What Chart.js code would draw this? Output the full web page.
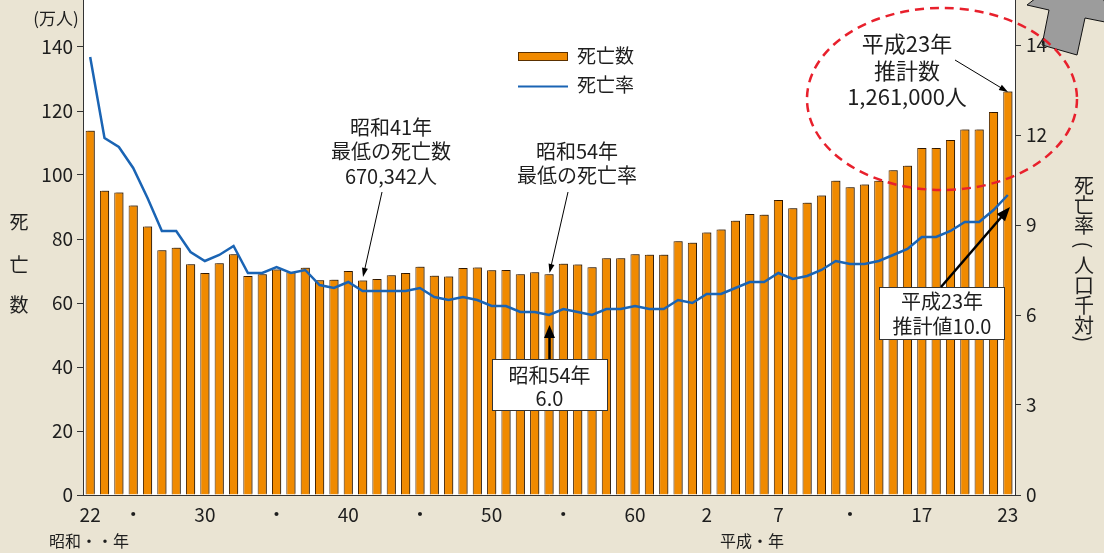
<!DOCTYPE html>
<html><head><meta charset="utf-8">
<script src="https://cdn.jsdelivr.net/npm/chart.js@4"></script>
<style>html,body{margin:0;padding:0;background:#EAE4D3;}canvas{display:block;}</style>
</head><body>
<canvas id="c" width="1104" height="553"></canvas>
<script>
// ---- data ----
const categories = [
 '昭和22','昭和23','昭和24','昭和25','昭和26','昭和27','昭和28','昭和29','昭和30','昭和31',
 '昭和32','昭和33','昭和34','昭和35','昭和36','昭和37','昭和38','昭和39','昭和40','昭和41',
 '昭和42','昭和43','昭和44','昭和45','昭和46','昭和47','昭和48','昭和49','昭和50','昭和51',
 '昭和52','昭和53','昭和54','昭和55','昭和56','昭和57','昭和58','昭和59','昭和60','昭和61',
 '昭和62','昭和63','平成元','平成2','平成3','平成4','平成5','平成6','平成7','平成8',
 '平成9','平成10','平成11','平成12','平成13','平成14','平成15','平成16','平成17','平成18',
 '平成19','平成20','平成21','平成22','平成23'];
// 死亡数 (万人)
const deathCounts = [
 113.8, 95.1, 94.5, 90.5, 83.9, 76.5, 77.3, 72.1, 69.4, 72.4,
 75.2, 68.4, 69.0, 70.5, 69.6, 71.0, 67.1, 67.3, 70.0, 67.0,
 67.5, 68.7, 69.4, 71.3, 68.5, 68.3, 70.9, 71.1, 70.2, 70.3,
 69.0, 69.6, 69.0, 72.3, 72.0, 71.2, 74.0, 74.0, 75.2, 75.1,
 75.1, 79.3, 78.8, 82.0, 83.0, 85.7, 87.8, 87.6, 92.2, 89.6,
 91.3, 93.6, 98.2, 96.2, 97.0, 98.2, 101.5, 102.9, 108.4, 108.4,
 110.9, 114.2, 114.2, 119.7, 126.1];
// 死亡率 (人口千対)
const deathRates = [
 14.6, 11.9, 11.6, 10.9, 9.9, 8.8, 8.8, 8.1, 7.8, 8.0,
 8.3, 7.4, 7.4, 7.6, 7.4, 7.5, 7.0, 6.9, 7.1, 6.8,
 6.8, 6.8, 6.8, 6.9, 6.6, 6.5, 6.6, 6.5, 6.3, 6.3,
 6.1, 6.1, 6.0, 6.2, 6.1, 6.0, 6.2, 6.2, 6.3, 6.2,
 6.2, 6.5, 6.4, 6.7, 6.7, 6.9, 7.1, 7.1, 7.4, 7.2,
 7.3, 7.5, 7.8, 7.7, 7.7, 7.8, 8.0, 8.2, 8.6, 8.6,
 8.8, 9.1, 9.1, 9.5, 10.0];
const tickYears = ['昭和22','昭和25','昭和30','昭和35','昭和40','昭和45','昭和50','昭和55','昭和60','平成2','平成7','平成12','平成17','平成23'];
const tickTexts = ['22','・','30','・','40','・','50','・','60','2','7','・','17','23'];
const leftTicks = [0,20,40,60,80,100,120,140];
const rightTicks = [0,3,6,9,12,15];
const rightTickLabels = ['0','3','6','9','12','14'];

const FONT = "'Noto Sans CJK JP','Noto Sans',sans-serif";
const INK = '#1e1e1e';
Chart.defaults.font.family = FONT;
Chart.defaults.color = INK;

function arrow(ctx, x1, y1, x2, y2, lw, hl, hw) {
  const a = Math.atan2(y2 - y1, x2 - x1);
  ctx.save();
  ctx.strokeStyle = '#000'; ctx.fillStyle = '#000'; ctx.lineWidth = lw;
  ctx.beginPath(); ctx.moveTo(x1, y1);
  ctx.lineTo(x2 - Math.cos(a) * hl * 0.8, y2 - Math.sin(a) * hl * 0.8); ctx.stroke();
  ctx.translate(x2, y2); ctx.rotate(a);
  ctx.beginPath(); ctx.moveTo(0, 0); ctx.lineTo(-hl, -hw / 2); ctx.lineTo(-hl, hw / 2); ctx.closePath(); ctx.fill();
  ctx.restore();
}
function lines(ctx, arr, x, y0, step, size) {
  ctx.save();
  ctx.font = size + 'px ' + FONT; ctx.fillStyle = INK;
  ctx.textAlign = 'center'; ctx.textBaseline = 'middle';
  arr.forEach((t, i) => ctx.fillText(t, x, y0 + i * step));
  ctx.restore();
}
function noPad(s) { s.paddingTop = 0; s.paddingBottom = 0; s.paddingLeft = 0; s.paddingRight = 0; }

const bgPlugin = {
  id: 'bg',
  beforeDraw(chart) {
    const ctx = chart.ctx, a = chart.chartArea;
    ctx.save();
    ctx.fillStyle = '#EAE4D3'; ctx.fillRect(0, 0, chart.width, chart.height);
    ctx.fillStyle = '#ffffff'; ctx.fillRect(a.left, a.top, a.right - a.left, a.bottom - a.top);
    // gray arrow top-right
    ctx.beginPath();
    ctx.moveTo(1085, -40); ctx.lineTo(1027, 5); ctx.lineTo(1049, 10); ctx.lineTo(1042, 45);
    ctx.lineTo(1077, 55); ctx.lineTo(1085, 18); ctx.lineTo(1115, 24); ctx.closePath();
    ctx.fillStyle = '#9c9c9c'; ctx.fill();
    ctx.strokeStyle = '#111'; ctx.lineWidth = 1; ctx.stroke();
    ctx.restore();
  },
  beforeDatasetDraw(chart, args) {
    if (args.index === 0) {
      const ctx = chart.ctx; ctx.save();
      ctx.shadowColor = 'rgba(0,0,0,0.4)'; ctx.shadowOffsetX = 2; ctx.shadowOffsetY = -1; ctx.shadowBlur = 0;
    }
  },
  afterDatasetDraw(chart, args) {
    if (args.index === 0) chart.ctx.restore();
  },
  afterDraw(chart) {
    const ctx = chart.ctx;
    ctx.save();
    // (万人)
    ctx.font = '17px ' + FONT; ctx.fillStyle = INK; ctx.textAlign = 'center'; ctx.textBaseline = 'middle';
    ctx.fillText('(万人)', 56, 19);
    // left title
    ctx.font = '19px ' + FONT;
    ctx.fillText('死', 19, 222); ctx.fillText('亡', 19, 265); ctx.fillText('数', 19, 305);
    // right title (vertical)
    ctx.font = '20px ' + FONT;
    ['死','亡','率','(','人','口','千','対',')'].forEach((c, i) => {
      const y = 185 + i * 20;
      if (c === '(' || c === ')') {
        ctx.save(); ctx.translate(1084, y + (c === ')' ? -6 : 0)); ctx.rotate(Math.PI / 2); ctx.fillText(c, 0, 0); ctx.restore();
      } else ctx.fillText(c, 1084, y);
    });
    // bottom era labels
    ctx.font = '16px ' + FONT;
    ctx.textAlign = 'left';
    ctx.fillText('昭和・・年', 49, 541);
    ctx.fillText('平成・年', 720, 541);
    // legend
    ctx.fillStyle = '#5a3000'; ctx.fillRect(518, 52, 50, 9);
    ctx.fillStyle = '#F08A00'; ctx.fillRect(519, 53, 48, 7);
    ctx.strokeStyle = '#1a64b4'; ctx.lineWidth = 2;
    ctx.beginPath(); ctx.moveTo(518, 86.5); ctx.lineTo(568, 86.5); ctx.stroke();
    ctx.fillStyle = INK; ctx.font = '19px ' + FONT; ctx.textAlign = 'left';
    ctx.fillText('死亡数', 577, 56); ctx.fillText('死亡率', 577, 85);
    ctx.restore();

    // annotations
    lines(ctx, ['昭和41年', '最低の死亡数', '670,342人'], 391, 127, 24.5, 20);
    arrow(ctx, 382, 192, 363, 277, 1, 9, 6);
    lines(ctx, ['昭和54年', '最低の死亡率'], 577, 151, 24.5, 20);
    arrow(ctx, 568, 192, 549.5, 273, 1, 9, 6);

    ctx.save();
    ctx.fillStyle = '#fff'; ctx.strokeStyle = '#333'; ctx.lineWidth = 1;
    ctx.fillRect(492, 359, 116, 52); ctx.strokeRect(492.5, 359.5, 115, 51);
    ctx.fillRect(879, 287, 126, 53); ctx.strokeRect(879.5, 287.5, 125, 52);
    ctx.restore();
    lines(ctx, ['昭和54年', '6.0'], 549.5, 375, 23.5, 20);
    arrow(ctx, 549.5, 359, 549.5, 325, 2.5, 13, 11);
    lines(ctx, ['平成23年', '推計値10.0'], 942, 301, 25, 20);
    arrow(ctx, 941, 287, 1010, 207, 2.5, 14, 11);

    // red dashed ellipse
    ctx.save();
    ctx.strokeStyle = '#e8202c'; ctx.lineWidth = 2.5; ctx.setLineDash([9, 6]);
    ctx.beginPath(); ctx.ellipse(942, 99, 135, 91, 0, 0, Math.PI * 2); ctx.stroke();
    ctx.restore();
    lines(ctx, ['平成23年', '推計数', '1,261,000人'], 907, 44, 26.5, 22);
    arrow(ctx, 955, 60, 1008, 92, 1, 9, 6);
  }
};

new Chart(document.getElementById('c'), {
  data: {
    labels: categories,
    datasets: [
      { type: 'bar', label: '死亡数', data: deathCounts, yAxisID: 'y', order: 2,
        backgroundColor: '#F08A00', borderColor: '#4a2600', borderWidth: 1,
        categoryPercentage: 1.0, barPercentage: 0.64 },
      { type: 'line', label: '死亡率', data: deathRates, yAxisID: 'y1', order: 1,
        borderColor: '#1a64b4', borderWidth: 2.5, pointRadius: 0, tension: 0, fill: false }
    ]
  },
  options: {
    responsive: false, animation: false, devicePixelRatio: 1,
    layout: { padding: 0 },
    plugins: { legend: { display: false }, tooltip: { enabled: false } },
    scales: {
      x: {
        type: 'category', offset: true,
        grid: { display: false },
        border: { display: true, color: '#333', width: 1 },
        ticks: { autoSkip: false, maxRotation: 0, padding: 0, color: INK, font: { size: 19 },
          callback: (v, i) => { const k = tickYears.indexOf(categories[i]); return k >= 0 ? tickTexts[k] : ''; } },
        afterFit: s => { s.height = 58; noPad(s); }
      },
      y: {
        position: 'left', min: 0, max: 495 / 3.2,
        afterBuildTicks: s => { s.ticks = leftTicks.map(v => ({ value: v })); },
        grid: { drawOnChartArea: false, drawTicks: true, tickLength: 6, color: '#333' },
        border: { display: true, color: '#333', width: 1 },
        ticks: { padding: 4, color: INK, font: { size: 19 }, callback: v => String(v) },
        afterFit: s => { s.width = 83; noPad(s); }
      },
      y1: {
        position: 'right', min: 0, max: 16.5,
        afterBuildTicks: s => { s.ticks = rightTicks.map(v => ({ value: v })); },
        grid: { drawOnChartArea: false, drawTicks: true, tickLength: 6, color: '#333' },
        border: { display: true, color: '#333', width: 1 },
        ticks: { padding: 5, color: INK, font: { size: 19 },
          callback: v => { const k = rightTicks.indexOf(v); return k >= 0 ? rightTickLabels[k] : ''; } },
        afterFit: s => { s.width = 89; noPad(s); }
      }
    }
  },
  plugins: [bgPlugin]
});
</script>
</body></html>
